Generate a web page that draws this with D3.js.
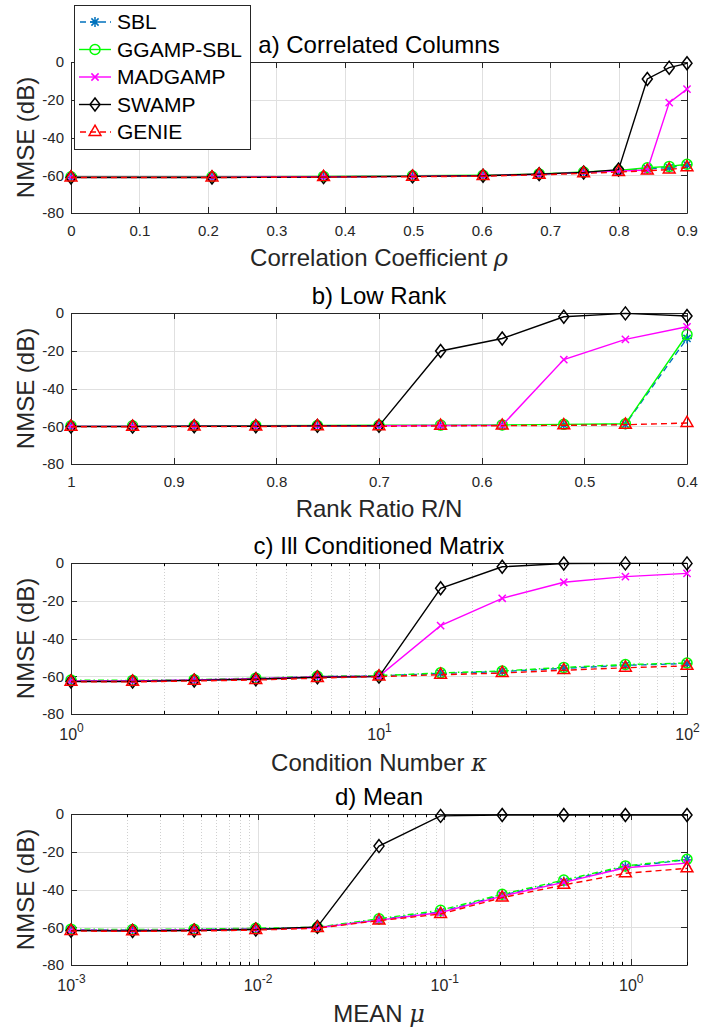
<!DOCTYPE html>
<html>
<head>
<meta charset="utf-8">
<script src="https://cdn.jsdelivr.net/npm/d3@7"></script>
<style>
  body { margin: 0; background: #fff; }
  svg { display: block; font-family: "Liberation Sans", Arial, sans-serif; }
</style>
</head>
<body>
<svg id="chart"></svg>
<script>
// series names, in legend order
const seriesNames = ["SBL", "GGAMP-SBL", "MADGAMP", "SWAMP", "GENIE"];

// a) Correlated Columns
const rhoA = [0, 0.206, 0.369, 0.499, 0.602, 0.684, 0.749, 0.800, 0.842, 0.874, 0.9];
const sblA = [-61, -61, -60.8, -60.5, -60.2, -59.5, -58.5, -57.8, -56.5, -56, -54.5];
const ggampA = [-60.8, -60.8, -60.6, -60.3, -60, -59.3, -58.3, -57.5, -56, -55.3, -54.2];
const madA = [-61, -61, -60.8, -60.5, -60.2, -59.5, -58.5, -57.8, -57.2, -21.5, -14.4];
const swampA = [-61.2, -61.2, -61, -60.6, -60.3, -59.4, -58.5, -57, -9, -3, -0.7];
const genieA = [-61.2, -61.2, -61, -60.8, -60.5, -59.8, -59, -58.3, -57.6, -57, -55.8];
const ticksA = [0, 0.1, 0.2, 0.3, 0.4, 0.5, 0.6, 0.7, 0.8, 0.9];

// b) Low Rank
const rankB = [1, 0.94, 0.88, 0.82, 0.76, 0.70, 0.64, 0.58, 0.52, 0.46, 0.40];
const sblB = [-60, -60, -60, -60, -59.8, -59.7, -59.6, -59.5, -59.3, -59, -13.5];
const ggampB = [-59.8, -59.8, -59.8, -59.7, -59.6, -59.5, -59.4, -59.3, -59, -58.7, -11.4];
const madB = [-60, -60, -60, -60, -59.8, -59.7, -59.6, -59.5, -24.7, -14, -7.3];
const swampB = [-60.2, -60.2, -60, -60, -59.8, -59.8, -20.1, -13.5, -2, -0.2, -1.6];
const genieB = [-60.3, -60.3, -60.2, -60.2, -60, -60, -59.8, -59.7, -59.5, -59.2, -58.3];
const ticksB = [1, 0.9, 0.8, 0.7, 0.6, 0.5, 0.4];

// c) Ill Conditioned Matrix
const kappaC = [1, 1.585, 2.512, 3.981, 6.31, 10, 15.85, 25.12, 39.81, 63.1, 100];
const sblC = [-62.5, -62.5, -62, -61.3, -60.2, -59.8, -58.5, -57.5, -55.8, -54.2, -53.3];
const ggampC = [-62, -62.2, -61.8, -61, -60, -59.7, -58.2, -57.2, -55.3, -53.8, -53];
const madC = [-62.5, -62.5, -62, -61.3, -60.3, -60, -33.2, -18.7, -10.2, -7.2, -5.5];
const swampC = [-62.8, -62.8, -62.2, -61.6, -60.5, -60.2, -13.4, -2, -0.3, -0.2, -0.2];
const genieC = [-63, -63, -62.5, -62, -61, -60.2, -59.2, -58.3, -56.8, -55.5, -54.5];
const ticksC = [1, 10, 100];

// d) Mean
const meanD = [0.001, 0.002138, 0.004573, 0.009779, 0.02091, 0.04472, 0.09563, 0.2045, 0.4373, 0.9352, 2.0];
const sblD = [-61.3, -61.5, -61.2, -60.8, -60.2, -56, -51.8, -43, -35.7, -28, -24.2];
const ggampD = [-61, -61.2, -61, -60.5, -60, -55.5, -51, -42.5, -35, -27.5, -24];
const madD = [-61.5, -61.7, -61.4, -61, -60.3, -56.2, -52.2, -43.5, -36.2, -28.5, -26];
const swampD = [-61.8, -62, -61.7, -61.2, -59.8, -17, -1, -0.5, -0.5, -0.5, -0.5];
const genieD = [-62, -62.2, -62, -61.5, -60.5, -56.5, -53, -44.3, -37.6, -31.4, -28.8];
const ticksD = [0.001, 0.01, 0.1, 1];

const yTicks = [-80, -60, -40, -20, 0];

const width = 701, height = 1032;
const left = 71, right = 687, plotH = 151;
const axisColor = "#262626";
const font = "'Liberation Sans', Arial, sans-serif";

const svg = d3.select("#chart").attr("width", width).attr("height", height);
svg.append("rect").attr("width", width).attr("height", height).attr("fill", "#fff");

// marker shapes
function markerPath(type) {
  if (type === "asterisk") {
    const r = 5, a = 3.6;
    return `M${-r},0L${r},0M0,${-r}L0,${r}M${-a},${-a}L${a},${a}M${-a},${a}L${a},${-a}`;
  }
  if (type === "circle") {
    const r = 5;
    return `M${r},0A${r},${r} 0 1 1 ${-r},0A${r},${r} 0 1 1 ${r},0Z`;
  }
  if (type === "x") {
    const a = 3.6;
    return `M${-a},${-a}L${a},${a}M${-a},${a}L${a},${-a}`;
  }
  if (type === "diamond") return "M0,-6.5L5,0L0,6.5L-5,0Z";
  if (type === "triangle") return "M0,-6.8L5.9,3.4L-5.9,3.4Z";
}

const styles = [
  { color: "#0072BD", marker: "asterisk", dash: "6,4" },
  { color: "#00FF00", marker: "circle", dash: null },
  { color: "#FF00FF", marker: "x", dash: null },
  { color: "#000000", marker: "diamond", dash: null },
  { color: "#FF0000", marker: "triangle", dash: "6,4" }
];

const panels = [
  { top: 62, title: "a) Correlated Columns", label: "Correlation Coefficient ", sym: "ρ",
    xs: rhoA, ys: [sblA, ggampA, madA, swampA, genieA], log: false,
    domain: [0, 0.9], ticks: ticksA, greenDash: null },
  { top: 313, title: "b) Low Rank", label: "Rank Ratio R/N", sym: "",
    xs: rankB, ys: [sblB, ggampB, madB, swampB, genieB], log: false,
    domain: [1, 0.4], ticks: ticksB, greenDash: null },
  { top: 563, title: "c) Ill Conditioned Matrix", label: "Condition Number ", sym: "κ",
    xs: kappaC, ys: [sblC, ggampC, madC, swampC, genieC], log: true,
    domain: [1, 100], ticks: ticksC, greenDash: "6,3,1.5,3" },
  { top: 814, title: "d) Mean", label: "MEAN ", sym: "μ",
    xs: meanD, ys: [sblD, ggampD, madD, swampD, genieD], log: true,
    domain: [0.001, 2], ticks: ticksD, greenDash: "6,3,1.5,3" }
];

panels.forEach(p => {
  const g = svg.append("g").attr("transform", `translate(0,${p.top})`);
  const x = (p.log ? d3.scaleLog() : d3.scaleLinear()).domain(p.domain).range([left, right]);
  const y = d3.scaleLinear().domain([-80, 0]).range([plotH, 0]);

  // minor grid for log axes
  let minor = [];
  if (p.log) {
    minor = x.ticks().filter(t => !p.ticks.some(m => Math.abs(m - t) / m < 1e-6));
    g.append("g")
      .attr("transform", `translate(0,${plotH})`)
      .call(d3.axisBottom(x).tickValues(minor).tickSize(-plotH).tickFormat(""))
      .call(a => a.select(".domain").remove())
      .call(a => a.selectAll("line").attr("stroke", "#d0d0d0").attr("stroke-dasharray", "1,2"));
  }

  // major grid
  g.append("g")
    .attr("transform", `translate(0,${plotH})`)
    .call(d3.axisBottom(x).tickValues(p.ticks).tickSize(-plotH).tickFormat(""))
    .call(a => a.select(".domain").remove())
    .call(a => a.selectAll("line").attr("stroke", "#e0e0e0"));
  g.append("g")
    .attr("transform", `translate(${left},0)`)
    .call(d3.axisLeft(y).tickValues(yTicks).tickSize(-(right - left)).tickFormat(""))
    .call(a => a.select(".domain").remove())
    .call(a => a.selectAll("line").attr("stroke", "#e0e0e0"));

  // box axes with inward ticks
  const bottom = g.append("g")
    .attr("transform", `translate(0,${plotH})`)
    .call(d3.axisBottom(x).tickValues(p.ticks).tickSizeInner(-6).tickSizeOuter(0)
      .tickPadding(p.log ? 14 : 12).tickFormat(p.log ? "" : d => String(d)));
  const top = g.append("g")
    .call(d3.axisTop(x).tickValues(p.ticks).tickSizeInner(-6).tickSizeOuter(0).tickFormat(""));
  const leftAx = g.append("g")
    .attr("transform", `translate(${left},0)`)
    .call(d3.axisLeft(y).tickValues(yTicks).tickSizeInner(-6).tickSizeOuter(0)
      .tickPadding(7).tickFormat(d => String(d)));
  const rightAx = g.append("g")
    .attr("transform", `translate(${right},0)`)
    .call(d3.axisRight(y).tickValues(yTicks).tickSizeInner(-6).tickSizeOuter(0).tickFormat(""));

  if (p.log) {
    g.append("g")
      .attr("transform", `translate(0,${plotH})`)
      .call(d3.axisBottom(x).tickValues(minor).tickSizeInner(-3).tickSizeOuter(0).tickFormat(""))
      .call(a => a.select(".domain").remove());
    g.append("g")
      .call(d3.axisTop(x).tickValues(minor).tickSizeInner(-3).tickSizeOuter(0).tickFormat(""))
      .call(a => a.select(".domain").remove());
    // power-of-ten labels
    const lab = bottom.selectAll(".tick").append("text")
      .attr("y", 26).attr("fill", axisColor).attr("text-anchor", "middle");
    lab.append("tspan").text("10");
    lab.append("tspan").attr("dy", -8).attr("font-size", 12)
      .text(d => String(Math.round(Math.log10(d))));
  }

  [bottom, top, leftAx, rightAx].forEach(a => {
    a.attr("font-family", font).attr("font-size", 15);
    a.selectAll("path, line").attr("stroke", axisColor);
    a.selectAll("text").attr("fill", axisColor);
  });
  if (p.log) bottom.attr("font-size", 16);
  g.selectAll(".tick line").attr("shape-rendering", "crispEdges");

  // series
  p.ys.forEach((vals, i) => {
    const st = styles[i];
    const dash = i === 1 ? p.greenDash : st.dash;
    const pts = p.xs.map((xv, k) => [xv, vals[k]]);
    g.append("path")
      .datum(pts)
      .attr("fill", "none")
      .attr("stroke", st.color)
      .attr("stroke-width", 1.4)
      .attr("stroke-dasharray", dash)
      .attr("d", d3.line().x(d => x(d[0])).y(d => y(d[1])));
    g.append("g").selectAll("path")
      .data(pts)
      .join("path")
      .attr("transform", d => `translate(${x(d[0])},${y(d[1])})`)
      .attr("d", markerPath(st.marker))
      .attr("fill", "none")
      .attr("stroke", st.color)
      .attr("stroke-width", 1.5);
  });

  // title
  g.append("text")
    .attr("x", (left + right) / 2).attr("y", -9)
    .attr("text-anchor", "middle")
    .attr("font-size", 24).attr("fill", "#000")
    .text(p.title);

  // x label
  const xl = g.append("text")
    .attr("x", (left + right) / 2).attr("y", plotH + (p.log ? 57 : 53))
    .attr("text-anchor", "middle")
    .attr("font-size", 24).attr("fill", axisColor)
    .text(p.label);
  if (p.sym) xl.append("tspan").attr("font-style", "italic").attr("font-family", "'DejaVu Serif', serif").text(p.sym);

  // y label
  g.append("text")
    .attr("transform", `translate(34,${plotH / 2}) rotate(-90)`)
    .attr("text-anchor", "middle")
    .attr("font-size", 24).attr("fill", axisColor)
    .text("NMSE (dB)");
});

// legend
const legend = svg.append("g").attr("font-family", font).attr("font-size", 21);
legend.append("rect")
  .attr("x", 74.5).attr("y", 5.5).attr("width", 176).attr("height", 144)
  .attr("fill", "#fff").attr("stroke", axisColor).attr("stroke-width", 1);
const rowY = d3.scalePoint().domain(seriesNames).range([22, 132]);
seriesNames.forEach((name, i) => {
  const st = styles[i];
  const yy = rowY(name);
  legend.append("line")
    .attr("x1", 79).attr("x2", 111).attr("y1", yy).attr("y2", yy)
    .attr("stroke", st.color).attr("stroke-width", 1.4)
    .attr("stroke-dasharray", st.dash ? "6,4" : null)
    .attr("stroke-dashoffset", st.dash ? -1 : null);
  legend.append("path")
    .attr("transform", `translate(95,${yy})`)
    .attr("d", markerPath(st.marker))
    .attr("fill", "none").attr("stroke", st.color).attr("stroke-width", 1.5);
  legend.append("text")
    .attr("x", 117).attr("y", yy).attr("dy", "0.35em")
    .attr("fill", "#000")
    .text(name);
});
</script>
</body>
</html>
